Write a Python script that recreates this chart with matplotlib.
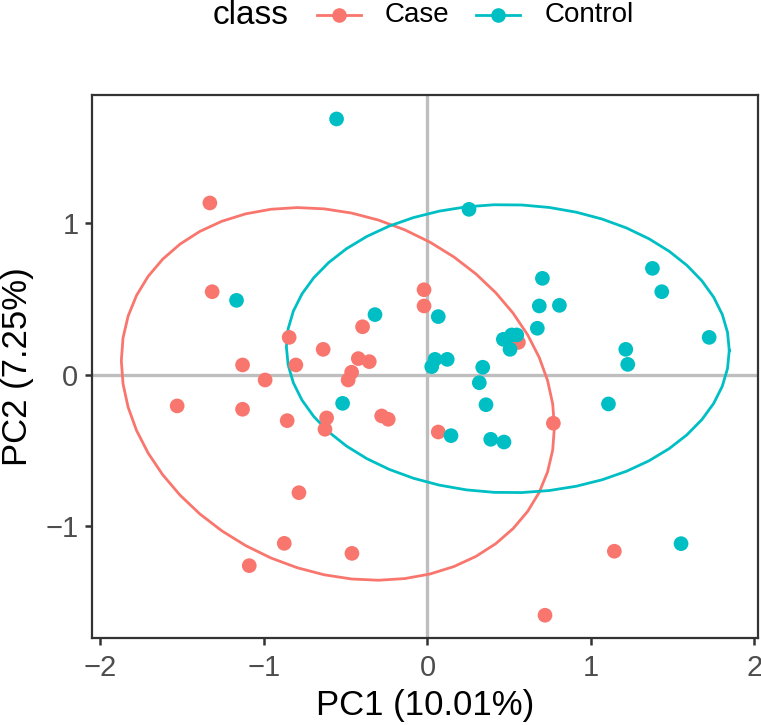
import numpy as np
import matplotlib
matplotlib.use("Agg")
import matplotlib.pyplot as plt
from matplotlib.lines import Line2D

plt.rcParams['font.family'] = ['Liberation Sans', 'DejaVu Sans']

# PCA scores
case_pc1 = [-1.331, -1.317, -0.397, -0.846, -0.638, -0.423, -0.356, -1.131, -0.805, -0.464,
            -0.021, -0.021, -0.993, -0.485, -1.531, -1.131, -0.858, -0.617, -0.627, -0.280,
            -0.240, -0.786, -0.876, -0.462, -1.090, 0.556, 0.770, 0.066, 1.143, 0.719]
case_pc2 = [1.132, 0.547, 0.316, 0.246, 0.167, 0.106, 0.086, 0.064, 0.064, 0.016,
            0.560, 0.453, -0.035, -0.035, -0.206, -0.228, -0.303, -0.285, -0.360, -0.272,
            -0.294, -0.778, -1.112, -1.178, -1.259, 0.213, -0.320, -0.378, -1.164, -1.586]
control_pc1 = [-0.556, -1.168, -0.321, -0.519, 0.254, 0.703, 1.376, 1.433, 0.684, 0.807,
               0.066, 0.672, 1.723, 0.464, 0.515, 0.546, 0.505, 1.213, 1.225, 0.046,
               0.026, 0.121, 0.338, 0.317, 0.358, 1.107, 0.144, 0.387, 0.468, 1.551]
control_pc2 = [1.686, 0.490, 0.396, -0.189, 1.090, 0.635, 0.701, 0.547, 0.453, 0.457,
               0.383, 0.306, 0.246, 0.233, 0.262, 0.262, 0.167, 0.167, 0.068, 0.101,
               0.053, 0.101, 0.049, -0.053, -0.198, -0.193, -0.402, -0.426, -0.444, -1.114]

classes = ['Case', 'Control']
colors = ['#F8766D', '#00BFC4']


def cov_trob(x, nu=5, tol=1e-4, maxit=100):
    # robust t-distribution location/scatter (like MASS::cov.trob)
    n, p = x.shape
    w = np.ones(n)
    loc = x.mean(axis=0)
    for _ in range(maxit):
        w0 = w
        X = x - loc
        S = (w[:, None] * X).T @ X / w.sum()
        Q = np.einsum('ij,jk,ik->i', X, np.linalg.inv(S), X)
        w = (nu + p) / (nu + Q)
        loc = (w[:, None] * x).sum(axis=0) / w.sum()
        if np.all(np.abs(w - w0) < tol):
            break
    X = x - loc
    cov = (w[:, None] * X).T @ X / n
    return loc, cov


def ellipse_path(xs, ys, level=0.95, segments=51):
    pts = np.column_stack([xs, ys])
    center, shape = cov_trob(pts)
    d = len(pts) - 1
    # F(2, d) quantile has a closed form
    qf = d / 2 * ((1 - level) ** (-2 / d) - 1)
    radius = np.sqrt(2 * qf)
    t = np.linspace(0, 2 * np.pi, segments)
    circle = np.column_stack([np.cos(t), np.sin(t)])
    chol = np.linalg.cholesky(shape).T
    e = center + radius * circle @ chol
    return e[:, 0], e[:, 1]


fig = plt.figure(figsize=(7.61, 7.25), dpi=100)
ax = fig.add_axes([0.1213, 0.12, 0.8744, 0.749])

ax.axhline(0, color='#BEBEBE', lw=2.4, zorder=1)
ax.axvline(0, color='#BEBEBE', lw=2.4, zorder=1)

groups = [(case_pc1, case_pc2), (control_pc1, control_pc2)]
for (xs, ys), col in zip(groups, colors):
    ax.scatter(xs, ys, s=112, color=col, edgecolors='none', zorder=3)
    ex, ey = ellipse_path(xs, ys)
    ax.plot(ex, ey, color=col, lw=2.0, zorder=2)

ax.set_xlim(-2.05, 2.02)
ax.set_ylim(-1.736, 1.844)
ax.set_xticks([-2, -1, 0, 1, 2])
ax.set_yticks([-1, 0, 1])
ax.set_xticklabels(['\u22122', '\u22121', '0', '1', '2'])
ax.set_yticklabels(['\u22121', '0', '1'])
ax.tick_params(direction='out', length=5, width=1.8, color='#333333',
               labelcolor='#4D4D4D', labelsize=21, pad=5)
ax.tick_params(axis='x', pad=6.5)
for s in ax.spines.values():
    s.set_color('#333333')
    s.set_linewidth(1.6)
ax.set_xlabel('PC1 (10.01%)', fontsize=25, labelpad=5)
ax.set_ylabel('PC2 (7.25%)', fontsize=25, labelpad=8)

# legend across the top
ly = 1 - 15 / 725
fig.text(213 / 761, ly, 'class', fontsize=24, ha='left', va='center')
key_x = [339, 498]
text_x = [385, 545]
for kx, tx, lab, col in zip(key_x, text_x, classes, colors):
    fig.add_artist(Line2D([(kx - 22) / 761, (kx + 22) / 761], [ly] * 2,
                          color=col, lw=2.0, transform=fig.transFigure))
    fig.add_artist(Line2D([kx / 761], [ly], marker='o', markersize=10.5,
                          color=col, markeredgewidth=0, transform=fig.transFigure))
    fig.text(tx / 761, ly, lab, fontsize=20, ha='left', va='center')

fig.savefig('out.png', dpi=100)
